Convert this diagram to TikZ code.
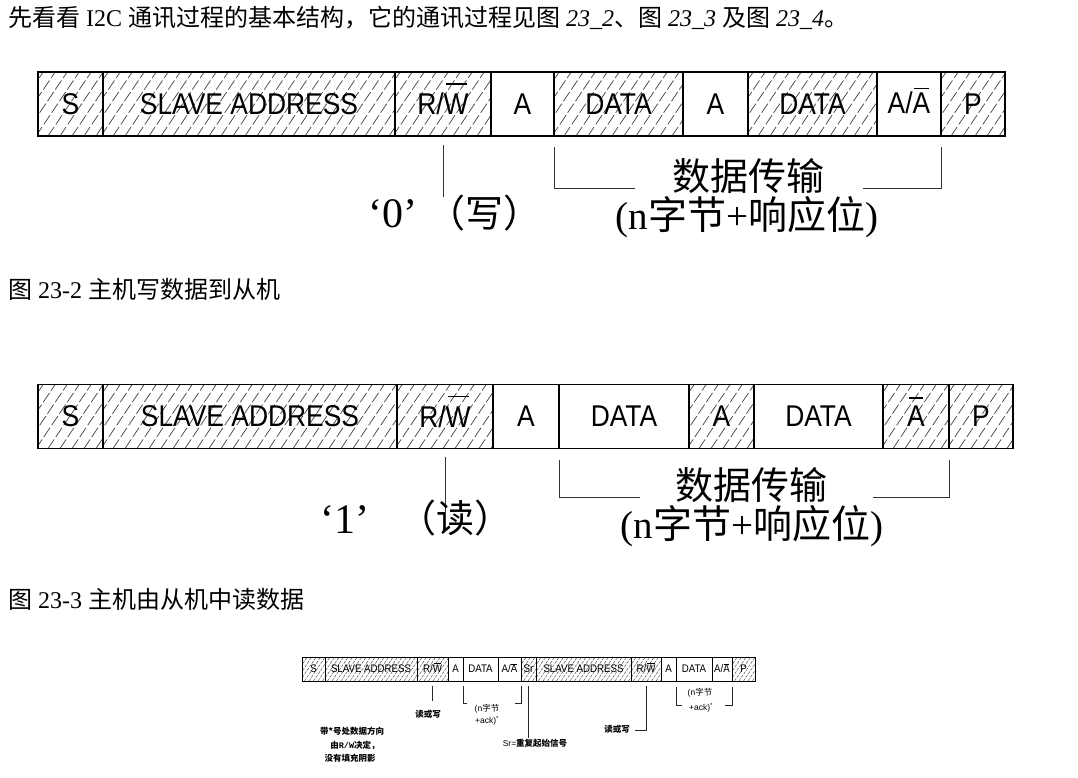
\documentclass[tikz,border=0pt]{standalone}
\usepackage{fontspec}
\setmainfont{Liberation Serif}
\newfontfamily\cjk{Noto Sans CJK SC}
\newfontfamily\cellfont[FakeStretch=0.88]{Liberation Sans}
\newfontfamily\sansfont{Liberation Sans}
\newfontfamily\monofont{Liberation Mono}
\usetikzlibrary{calc}

% bar drawn over a letter: #1 height of the bar above the baseline, #2 the letter
\newsavebox\barbox
\newcommand{\topbar}[2]{\sbox\barbox{#2}\rlap{\hspace{0.08\wd\barbox}\smash{\raisebox{#1}{\rule{0.84\wd\barbox}{0.05em}}}}\usebox\barbox}

\tikzset{
  cellbig/.style={draw, line width=1.1pt, inner sep=0pt, outer sep=0pt,
    minimum height=64pt, font=\cellfont\fontsize{30}{30}\selectfont},
  cellsmall/.style={draw, line width=0.6pt, inner sep=0pt, outer sep=0pt,
    minimum height=24pt, font=\cellfont\fontsize{11}{11}\selectfont},
  bighatch/.style={path picture={
    \foreach \k in {0,...,34}{
      \draw[black!75, line width=0.7pt, dash pattern=on 11pt off 3pt]
        ([xshift=\k*12pt-50pt]path picture bounding box.south west) -- ++(56:90pt);}}},
  smallhatch/.style={path picture={
    \foreach \k in {0,...,28}{
      \draw[black!70, line width=0.45pt, dash pattern=on 3pt off 1.2pt]
        ([xshift=\k*4.5pt-20pt]path picture bounding box.south west) -- ++(56:36pt);}}},
  lead/.style={line width=0.9pt, black!80},
  leadsmall/.style={line width=0.6pt, black!85},
  txt/.style={inner sep=0pt},
  bodytext/.style={inner sep=0pt, font=\fontsize{24}{24}\selectfont},
  bigcjk/.style={inner sep=0pt, font=\cjk\fontsize{38}{38}\selectfont},
  bigmix/.style={inner sep=0pt, font=\fontsize{39}{39}\selectfont},
  smallcjk/.style={inner sep=0pt, font=\cjk\bfseries\fontsize{8.5}{8.5}\selectfont},
  smallsans/.style={inner sep=0pt, font=\sansfont\fontsize{8.5}{8.5}\selectfont},
}

\begin{document}
\begin{tikzpicture}[x=1pt,y=-1pt]
\fill[white] (0,0) rectangle (1078,778);
\useasboundingbox (0,0) rectangle (1078,778);

% introductory sentence and captions
\node[bodytext, anchor=west] (intro) at (8,18)
  {{\cjk 先看看} I2C {\cjk 通讯过程的基本结构，它的通讯过程见图} \textit{23\_2}{\cjk 、图} \textit{23\_3} {\cjk 及图} \textit{23\_4}{\cjk 。}};
\node[bodytext, anchor=west] (cap2) at (8,289) {{\cjk 图} 23-2 {\cjk 主机写数据到从机}};
\node[bodytext, anchor=west] (cap3) at (8,599) {{\cjk 图} 23-3 {\cjk 主机由从机中读数据}};

% ---------- write frame ----------
\node[cellbig, bighatch, minimum width=65pt]  (f1s)    at (70.5,104) {S};
\node[cellbig, bighatch, minimum width=292pt] (f1addr) at (249,104)  {SLAVE ADDRESS};
\node[cellbig, bighatch, minimum width=96pt]  (f1rw)   at (443,104)  {R/\topbar{1.0em}{W}};
\node[cellbig, minimum width=63pt]            (f1a1)   at (522.5,104){A};
\node[cellbig, bighatch, minimum width=129pt] (f1d1)   at (618.5,104){DATA};
\node[cellbig, minimum width=65pt]            (f1a2)   at (715.5,104){A};
\node[cellbig, bighatch, minimum width=129pt] (f1d2)   at (812.5,104){DATA};
\node[cellbig, minimum width=64pt]            (f1aa)   at (909,104)  {\raisebox{3pt}{A/\topbar{0.8em}{A}}};
\node[cellbig, bighatch, minimum width=64pt]  (f1p)    at (973,104)  {P};

\coordinate (f1rwend) at (0,197);
\coordinate (f1brl) at (635,188);
\coordinate (f1brr) at (863,188);
\draw[lead] ([yshift=-9pt]f1rw.south) -- (f1rw.south |- f1rwend);
\draw[lead] ([yshift=-11pt]f1d1.south west) |- (f1brl);
\draw[lead] ([yshift=-11pt]f1aa.south east) |- (f1brr);

\node[bigcjk] (f1tx) at (748,176) {数据传输};
\node[bigmix] (f1ty) at (747,217) {(n{\cjk 字节}+{\cjk 响应位})};
\node[txt, font=\fontsize{42}{42}\selectfont] (f1zero) at (393,214) {‘0’};
\node[bigcjk] (f1w) at (484,213) {（写）};

% ---------- read frame ----------
\node[cellbig, bighatch, minimum width=65pt]  (f2s)    at (70.5,416.5) {S};
\node[cellbig, bighatch, minimum width=294pt] (f2addr) at (250,416.5)  {SLAVE ADDRESS};
\node[cellbig, bighatch, minimum width=96pt]  (f2rw)   at (445,416.5)  {R/\topbar{1.0em}{W}};
\node[cellbig, minimum width=66pt]            (f2a1)   at (526,416.5)  {A};
\node[cellbig, minimum width=130pt]           (f2d1)   at (624,416.5)  {DATA};
\node[cellbig, bighatch, minimum width=65pt]  (f2a2)   at (721.5,416.5){A};
\node[cellbig, minimum width=129pt]           (f2d2)   at (818.5,416.5){DATA};
\node[cellbig, bighatch, minimum width=66pt]  (f2na)   at (916,416.5)  {\topbar{0.93em}{A}};
\node[cellbig, bighatch, minimum width=64pt]  (f2p)    at (981,416.5)  {P};

\coordinate (f2rwend) at (0,512);
\coordinate (f2brl) at (640,497);
\coordinate (f2brr) at (873,497);
\draw[lead] ([yshift=-8pt]f2rw.south) -- (f2rw.south |- f2rwend);
\draw[lead] ([yshift=-11pt]f2d1.south west) |- (f2brl);
\draw[lead] ([yshift=-11pt]f2na.south east) |- (f2brr);

\node[bigcjk] (f2tx) at (751,485) {数据传输};
\node[bigmix] (f2ty) at (752,526) {(n{\cjk 字节}+{\cjk 响应位})};
\node[txt, font=\fontsize{42}{42}\selectfont] (f2one) at (345,520) {‘1’};
\node[bigcjk] (f2r) at (455,518) {（读）};

% ---------- combined frame with repeated start ----------
\node[cellsmall, smallhatch, minimum width=23pt] (f3s)     at (313.5,669) {S};
\node[cellsmall, smallhatch, minimum width=92pt] (f3addr)  at (371,669)   {SLAVE ADDRESS};
\node[cellsmall, smallhatch, minimum width=31pt] (f3rw)    at (432.5,669) {R/\topbar{0.85em}{W}};
\node[cellsmall, minimum width=15pt]             (f3a)     at (455.5,669) {A};
\node[cellsmall, minimum width=35pt]             (f3d)     at (480.5,669) {DATA};
\node[cellsmall, minimum width=23pt]             (f3aa)    at (509.5,669) {A/\topbar{0.8em}{A}};
\node[cellsmall, smallhatch, minimum width=15pt] (f3sr)    at (528.5,669) {Sr};
\node[cellsmall, smallhatch, minimum width=95pt] (f3addr2) at (583.5,669) {SLAVE ADDRESS};
\node[cellsmall, smallhatch, minimum width=30pt] (f3rw2)   at (646,669)   {R/\topbar{0.85em}{W}};
\node[cellsmall, minimum width=15pt]             (f3a2)    at (668.5,669) {A};
\node[cellsmall, minimum width=36pt]             (f3d2)    at (694,669)   {DATA};
\node[cellsmall, minimum width=20pt]             (f3aa2)   at (722,669)   {A/\topbar{0.8em}{A}};
\node[cellsmall, smallhatch, minimum width=23pt] (f3p)     at (743.5,669) {P};

\coordinate (f3rwend) at (0,701);
\coordinate (f3b1l) at (467,703);
\coordinate (f3b1r) at (515,703);
\coordinate (f3srend) at (0,738);
\coordinate (f3rw2end) at (635,730);
\coordinate (f3b2l) at (682,705);
\coordinate (f3b2r) at (725,705);
\draw[leadsmall] ([yshift=-5pt]f3rw.south) -- (f3rw.south |- f3rwend);
\draw[leadsmall] ([yshift=-5pt]f3d.south west) |- (f3b1l);
\draw[leadsmall] ([yshift=-5pt]f3aa.south east) |- (f3b1r);
\draw[leadsmall] ([yshift=-5pt]f3sr.south) -- (f3sr.south |- f3srend);
\draw[leadsmall] ([yshift=-5pt]f3rw2.south) |- (f3rw2end);
\draw[leadsmall] ([yshift=-6pt]f3d2.south west) |- (f3b2l);
\draw[leadsmall] ([yshift=-6pt]f3aa2.south east) |- (f3b2r);

\node[smallcjk] (f3rwtx) at (428,714) {读或写};
\node[smallsans] (f3n1) at (487,709) {(n{\cjk 字节}};
\node[smallsans] (f3k1) at (487,721) {+ack)\textsuperscript{*}};
\node[smallsans] (f3srtx) at (535,743) {Sr={\cjk\bfseries 重复起始信号}};
\node[smallcjk] (f3note1) at (352,731) {带*号处数据方向};
\node[smallcjk] (f3note2) at (355,745) {由{\monofont R/W}决定，};
\node[smallcjk] (f3note3) at (350,758) {没有填充阴影};
\node[smallcjk] (f3rw2tx) at (617,729) {读或写};
\node[smallsans] (f3n2) at (700,693) {(n{\cjk 字节}};
\node[smallsans] (f3k2) at (701,708) {+ack)\textsuperscript{*}};
\end{tikzpicture}
\end{document}
